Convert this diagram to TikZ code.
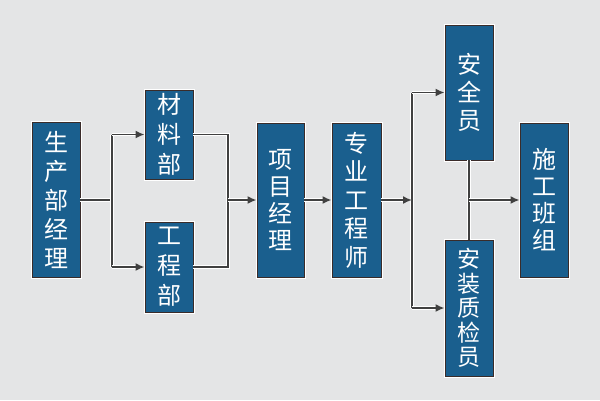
\documentclass[tikz,border=0pt]{standalone}
\usepackage{fontspec}
\newfontfamily\cjk{Noto Sans CJK SC}
\usetikzlibrary{arrows.meta}
\definecolor{bg}{HTML}{E4E5E6}
\definecolor{boxblue}{HTML}{1A5F8E}
\definecolor{boxedge}{HTML}{3A2C2A}
\definecolor{linegray}{HTML}{404040}
\tikzset{
  orgbox/.style={rectangle, fill=boxblue, draw=boxedge, line width=0.9pt,
    preaction={draw=white, line width=3pt},
    text=white, align=center, inner sep=0pt, anchor=center},
  conn/.style={draw=linegray, line width=1.6pt,
    preaction={draw=white, line width=3.6pt}},
  arr/.style={-{Latex[length=9pt,width=8pt]}},
}
\begin{document}
\begin{tikzpicture}[x=1pt,y=-1pt]
\fill[bg] (0,0) rectangle (600,400);
\useasboundingbox (0,0) rectangle (600,400);
\node[orgbox, minimum width=48pt, minimum height=155pt,
  font=\cjk\fontsize{24}{29}\selectfont] (a) at (56,200) {生\\产\\部\\经\\理};
\node[orgbox, minimum width=48pt, minimum height=89pt,
  font=\cjk\fontsize{24}{30}\selectfont] (b) at (169,134.5) {材\\料\\部};
\node[orgbox, minimum width=48pt, minimum height=90pt,
  font=\cjk\fontsize{24}{30}\selectfont] (c) at (169,267) {工\\程\\部};
\node[orgbox, minimum width=47pt, minimum height=154pt,
  font=\cjk\fontsize{24}{27}\selectfont] (d) at (280.5,200) {项\\目\\经\\理};
\node[orgbox, minimum width=49pt, minimum height=154pt,
  font=\cjk\fontsize{24}{28.5}\selectfont] (e) at (356.5,200) {专\\业\\工\\程\\师};
\node[orgbox, minimum width=48pt, minimum height=135pt,
  font=\cjk\fontsize{24}{28}\selectfont] (f) at (469,92.5) {安\\全\\员};
\node[orgbox, minimum width=48pt, minimum height=136pt,
  font=\cjk\fontsize{23}{24.5}\selectfont] (g) at (469,308) {安\\装\\质\\检\\员};
\node[orgbox, minimum width=48pt, minimum height=154pt,
  font=\cjk\fontsize{24}{27}\selectfont] (h) at (544,200) {施\\工\\班\\组};

\coordinate (j1) at (112,200);
\coordinate (j2) at (228,200);
\coordinate (j3) at (412,200);
\coordinate (j4) at (469,200);

\draw[conn] (a.east) -- (j1);
\draw[conn] (j1 |- b.west) -- (j1 |- c.west);
\draw[conn,arr] (j1 |- b.west) -- (b.west);
\draw[conn,arr] (j1 |- c.west) -- (c.west);

\draw[conn] (b.east) -| (j2) |- (c.east);
\draw[conn,arr] (j2) -- (d.west);

\draw[conn,arr] (d.east) -- (e.west);

\draw[conn] (j3 |- f.west) -- (j3 |- g.west);
\draw[conn,arr] (e.east) -- (j3);
\draw[conn,arr] (j3 |- f.west) -- (f.west);
\draw[conn,arr] (j3 |- g.west) -- (g.west);

\draw[conn] (f.south) -- (g.north);
\draw[conn,arr] (j4) -- (h.west);
\end{tikzpicture}
\end{document}
